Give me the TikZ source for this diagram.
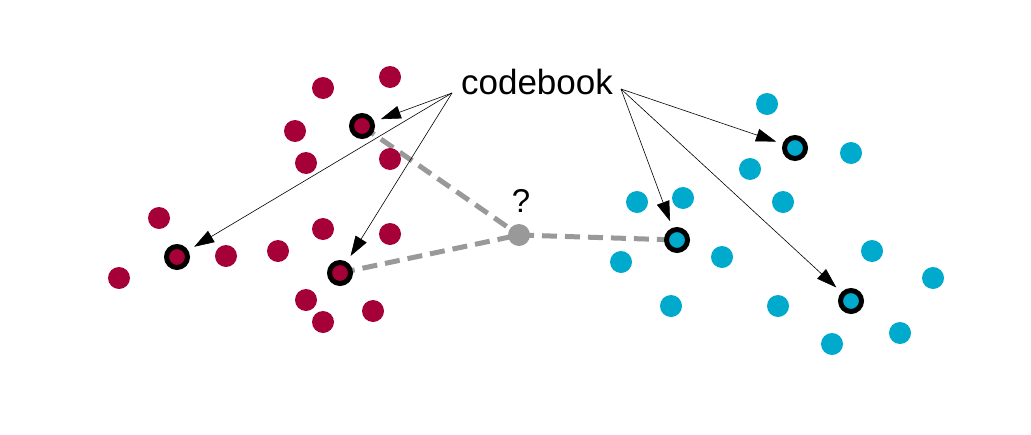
\documentclass[tikz,border=0pt]{standalone}
\usepackage{fontspec}
\setmainfont{Liberation Sans}
\usetikzlibrary{arrows.meta}
\definecolor{cbred}{RGB}{165,0,55}
\definecolor{cbblue}{RGB}{0,170,204}
\definecolor{cbgray}{RGB}{153,153,153}
\begin{document}
\begin{tikzpicture}[x=1pt,y=-1pt,
  reddot/.style={circle,fill=cbred,minimum size=22pt,inner sep=0pt},
  bluedot/.style={circle,fill=cbblue,minimum size=22pt,inner sep=0pt},
  redring/.style={circle,draw=black,line width=5pt,fill=cbred,minimum size=21pt,inner sep=0pt},
  bluering/.style={circle,draw=black,line width=5pt,fill=cbblue,minimum size=21pt,inner sep=0pt},
  query/.style={circle,fill=cbgray,minimum size=22pt,inner sep=0pt},
  cbarrow/.style={line width=0.6pt,-{Triangle[length=20pt,width=13pt]},shorten >=7pt},
  dist/.style={cbgray,line width=5pt,dash pattern=on 15pt off 8pt}]
\useasboundingbox (0,0) rectangle (1031,434);
% positions
\coordinate (pr1) at (362,126);
\coordinate (pr3) at (340,273);
\coordinate (pb2) at (677,240);
\coordinate (pq) at (519,235);
% dashed distances (behind dots)
\draw[dist] (pr1) -- (pq);
\draw[dist] (pr3) -- (pq);
\draw[dist] (pq) -- (pb2);
% red dots
\foreach \p [count=\i] in {(323,88),(390,77),(295,131),(306,163),(390,159),(159,218),(226,256),(278,251),(323,229),(390,234),(119,278),(306,300),(323,322),(373,311)}
  \node[reddot] (rd\i) at \p {};
% blue dots
\foreach \p [count=\i] in {(767,104),(851,153),(750,169),(637,202),(683,198),(783,202),(621,262),(722,257),(872,251),(933,278),(671,306),(778,306),(900,333),(832,344)}
  \node[bluedot] (bd\i) at \p {};
% codebook entries
\node[redring] (r1) at (pr1) {};
\node[redring] (r2) at (177,257) {};
\node[redring] (r3) at (pr3) {};
\node[bluering] (b1) at (795,148) {};
\node[bluering] (b2) at (pb2) {};
\node[bluering] (b3) at (851,301) {};
\node[query] (q) at (pq) {};
\node[font=\fontsize{33}{37}\selectfont,inner sep=0pt] (qm) at (521,201) {?};
% label
\node[font=\fontsize{35}{39}\selectfont,inner sep=0pt] (cb) at (537,82) {codebook};
\coordinate (cbl) at (452,93);
\coordinate (cbr) at (621,89);
\draw[cbarrow] (cbl) -- (r1);
\draw[cbarrow] (cbl) -- (r2);
\draw[cbarrow] (cbl) -- (r3);
\draw[cbarrow] (cbr) -- (b1);
\draw[cbarrow] (cbr) -- (b2);
\draw[cbarrow] (cbr) -- (b3);
\end{tikzpicture}
\end{document}
